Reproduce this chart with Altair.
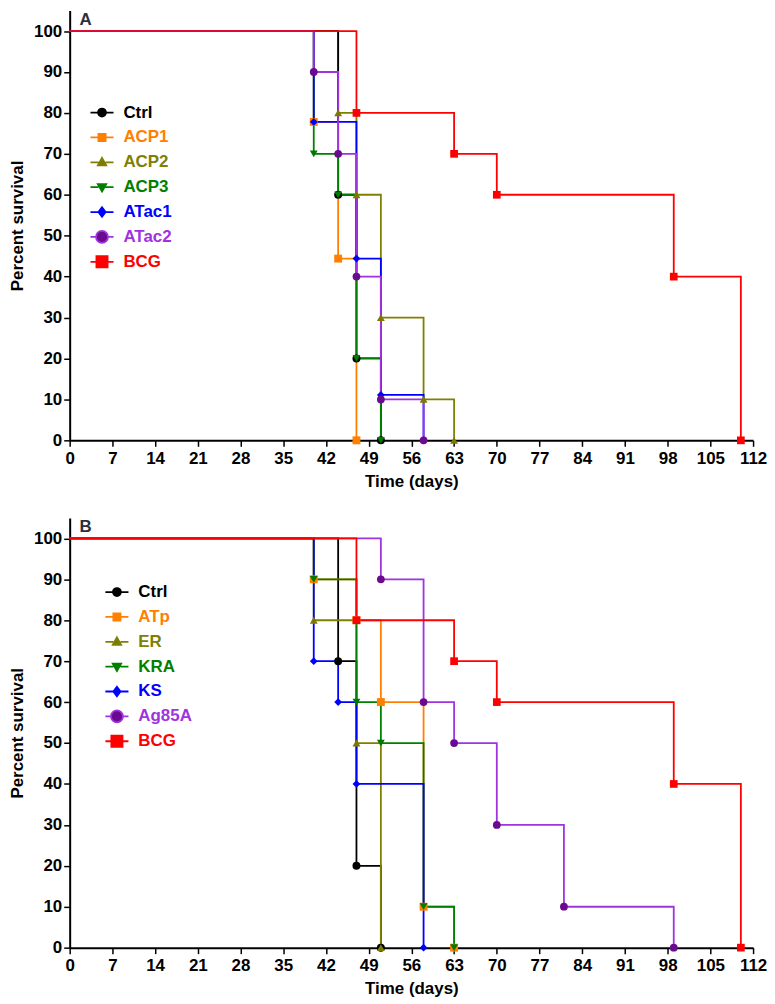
import altair as alt
import pandas as pd

# ---------------- data ----------------
x_ticks = [0, 7, 14, 21, 28, 35, 42, 49, 56, 63, 70, 77, 84, 91, 98, 105, 112]
y_ticks = [0, 10, 20, 30, 40, 50, 60, 70, 80, 90, 100]

# Panel A
groups_a = ["Ctrl", "ACP1", "ACP2", "ACP3", "ATac1", "ATac2", "BCG"]
a_ctrl_day = [0, 44, 47, 51]
a_ctrl_surv = [100, 60, 20, 0]
a_acp1_day = [0, 40, 44, 47]
a_acp1_surv = [100, 77.8, 44.4, 0]
a_acp2_day = [0, 44, 47, 51, 58, 63]
a_acp2_surv = [100, 80, 60, 30, 10, 0]
a_acp3_day = [0, 40, 44, 47, 51]
a_acp3_surv = [100, 70, 60, 20, 0]
a_atac1_day = [0, 40, 47, 51, 58]
a_atac1_surv = [100, 77.8, 44.4, 11.1, 0]
a_atac2_day = [0, 40, 44, 47, 51, 58]
a_atac2_surv = [100, 90, 70, 40, 10, 0]
a_bcg_day = [0, 47, 63, 70, 99, 110]
a_bcg_surv = [100, 80, 70, 60, 40, 0]

# Panel B
groups_b = ["Ctrl", "ATp", "ER", "KRA", "KS", "Ag85A", "BCG"]
b_ctrl_day = [0, 44, 47, 51]
b_ctrl_surv = [100, 70, 20, 0]
b_atp_day = [0, 40, 47, 51, 58, 63]
b_atp_surv = [100, 90, 80, 60, 10, 0]
b_er_day = [0, 40, 47, 51]
b_er_surv = [100, 80, 50, 0]
b_kra_day = [0, 40, 47, 51, 58, 63]
b_kra_surv = [100, 90, 60, 50, 10, 0]
b_ks_day = [0, 40, 44, 47, 58]
b_ks_surv = [100, 70, 60, 40, 0]
b_ag85a_day = [0, 51, 58, 63, 70, 81, 99]
b_ag85a_surv = [100, 90, 60, 50, 30, 10, 0]
b_bcg_day = [0, 47, 63, 70, 99, 110]
b_bcg_surv = [100, 80, 70, 60, 40, 0]

panel_letters = ["A", "B"]

# drawing order (bottom -> top)
order_a = ["ACP2", "Ctrl", "ACP1", "ACP3", "ATac1", "ATac2", "BCG"]
order_b = ["Ctrl", "ER", "ATp", "KRA", "KS", "Ag85A", "BCG"]

# ---------------- styles ----------------
line_colors = ["#000000", "#FF8000", "#808000", "#008000", "#0000FF", "#A033E0", "#FF0000"]
marker_colors = ["#000000", "#FF8000", "#7A7A00", "#007A00", "#0000FF", "#6A0A8E", "#FF0000"]
shapes = ["circle", "square", "triangle-up", "triangle-down", "diamond", "circle", "square"]
sizes = [64, 60, 64, 64, 64, 125, 135]


def seg(r):
    return f"M-2.9,0H-{r}M{r},0H2.9"


legend_paths = [
    seg(1) + "M-1,0A1,1,0,1,0,1,0A1,1,0,1,0,-1,0Z",
    seg(0.9) + "M-0.9,-0.9H0.9V0.9H-0.9Z",
    seg(0.9) + "M0,-1.1L1.05,0.75L-1.05,0.75Z",
    seg(0.9) + "M0,1.1L1.05,-0.75L-1.05,-0.75Z",
    seg(0.9) + "M0,-1.2L0.9,0L0,1.2L-0.9,0Z",
    seg(1.5) + "M-1.5,0A1.5,1.5,0,1,0,1.5,0A1.5,1.5,0,1,0,-1.5,0Z",
    seg(1.4) + "M-1.4,-1.4H1.4V1.4H-1.4Z",
]
FONT = "Liberation Sans"


def build_df(series, order):
    rows = []
    for g in order:
        days, surv = series[g]
        for d, s in zip(days, surv):
            rows.append({"group": g, "day": d, "surv": s})
    return pd.DataFrame(rows)


df_a = build_df({
    "Ctrl": (a_ctrl_day, a_ctrl_surv), "ACP1": (a_acp1_day, a_acp1_surv),
    "ACP2": (a_acp2_day, a_acp2_surv), "ACP3": (a_acp3_day, a_acp3_surv),
    "ATac1": (a_atac1_day, a_atac1_surv), "ATac2": (a_atac2_day, a_atac2_surv),
    "BCG": (a_bcg_day, a_bcg_surv)}, order_a)
df_b = build_df({
    "Ctrl": (b_ctrl_day, b_ctrl_surv), "ATp": (b_atp_day, b_atp_surv),
    "ER": (b_er_day, b_er_surv), "KRA": (b_kra_day, b_kra_surv),
    "KS": (b_ks_day, b_ks_surv), "Ag85A": (b_ag85a_day, b_ag85a_surv),
    "BCG": (b_bcg_day, b_bcg_surv)}, order_b)


def panel(df, groups, order, letter, leg_x, leg_y, height):
    x = alt.X("day:Q", scale=alt.Scale(domain=[0, 112], nice=False, zero=False),
              axis=alt.Axis(values=x_ticks, title="Time (days)"))
    y = alt.Y("surv:Q", scale=alt.Scale(domain=[0, 105], nice=False),
              axis=alt.Axis(values=y_ticks, title="Percent survival"))
    stroke_scale = alt.Scale(domain=groups, range=line_colors)

    layers = []
    for g in order:
        layers.append(
            alt.Chart(df).transform_filter(alt.datum.group == g)
            .mark_line(interpolate="step-after", strokeWidth=1.8)
            .encode(x=x, y=y, stroke=alt.Stroke("group:N", scale=stroke_scale, legend=None))
        )
    pts = (
        alt.Chart(df).transform_filter("datum.day > 0")
        .mark_point(filled=True, opacity=1, strokeWidth=0)
        .encode(
            x=x, y=y,
            fill=alt.Fill("group:N", scale=alt.Scale(domain=groups, range=marker_colors), legend=None),
            shape=alt.Shape("group:N", scale=alt.Scale(domain=groups, range=shapes), legend=None),
            size=alt.Size("group:N", scale=alt.Scale(domain=groups, range=sizes), legend=None),
        )
    )
    label_expr = ("[" + ",".join(f"'{c}'" for c in line_colors) + "][indexof(["
                  + ",".join(f"'{g}'" for g in groups) + "], datum.value)]")
    leg = alt.Legend(title=None, orient="none", legendX=leg_x, legendY=leg_y,
                     labelColor=alt.ExprRef(label_expr), labelFont=FONT, labelFontSize=17,
                     labelFontWeight="bold", labelOffset=13, rowPadding=4, gridAlign="all",
                     symbolSize=64, symbolStrokeWidth=1.8, padding=0)
    leg_layer = (
        alt.Chart(df).transform_filter("datum.day < 0")
        .mark_point(filled=True, opacity=1, size=64, strokeWidth=1.8)
        .encode(
            x=x, y=y,
            color=alt.Color("group:N", scale=alt.Scale(domain=groups, range=marker_colors), legend=leg),
            stroke=alt.Stroke("group:N", scale=stroke_scale, legend=leg),
            shape=alt.Shape("group:N", scale=alt.Scale(domain=groups, range=legend_paths), legend=leg),
        )
    )
    letter_layer = (
        alt.Chart(pd.DataFrame({"label": [letter]}))
        .mark_text(align="left", baseline="top", font=FONT, fontSize=17,
                   fontWeight="bold", color="#2E2E40")
        .encode(x=alt.value(10), y=alt.value(1), text="label:N")
    )
    layers += [pts, leg_layer, letter_layer]
    return (
        alt.layer(*layers)
        .resolve_scale(color="independent", fill="independent", stroke="independent",
                       shape="independent", size="independent")
        .properties(width=687, height=height)
    )


chart_a = panel(df_a, groups_a, order_a, panel_letters[0], 24, 94, 432)
chart_b = panel(df_b, groups_b, order_b, panel_letters[1], 39, 66, 432)

chart = (
    alt.vconcat(chart_a, chart_b, spacing=29)
    .properties(padding={"left": 0, "top": 0, "right": 0, "bottom": 0})
    .configure_view(stroke=None)
    .configure_axis(
        grid=False, domainColor="black", domainWidth=2, tickColor="black", tickWidth=1.5,
        tickSize=6, labelFont=FONT, labelFontSize=17, labelFontWeight="bold",
        labelColor="black", labelFlush=False, labelOverlap=False,
        titleFont=FONT, titleFontSize=17, titleFontWeight="bold", titleColor="black",
    )
    .configure_axisX(labelPadding=4, titlePadding=7)
    .configure_axisY(labelPadding=2, titlePadding=7)
)

chart.save("out.html", embed_options={"renderer": "svg", "actions": False})
